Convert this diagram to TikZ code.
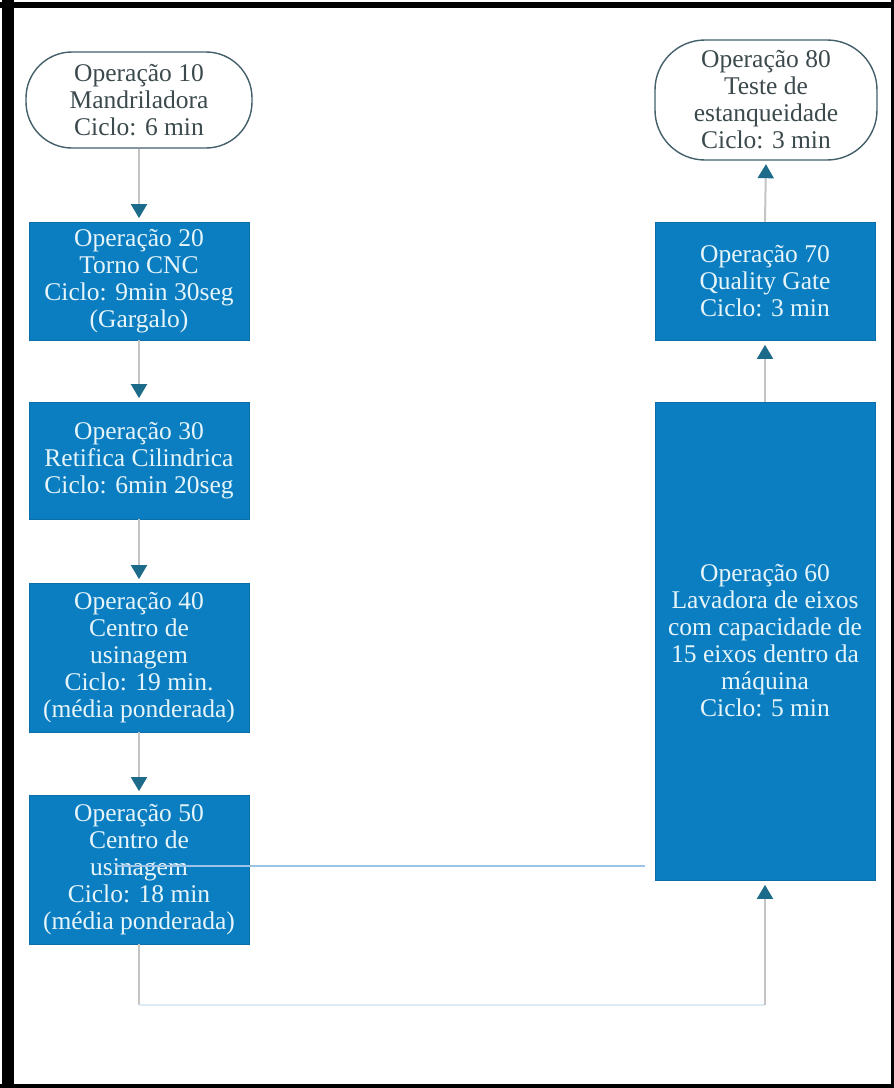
\documentclass[tikz,border=0pt]{standalone}
\usepackage{fontspec}
\setmainfont{Liberation Serif}
\usetikzlibrary{arrows.meta}
\definecolor{boxblue}{HTML}{0B7DC1}
\definecolor{boxedge}{HTML}{0A6EA8}
\definecolor{boxtext}{HTML}{E6F5FA}
\definecolor{ovaledge}{HTML}{44606A}
\definecolor{ovaltext}{HTML}{3C4A4E}
\definecolor{linegrey}{HTML}{C4C4C4}
\definecolor{tipteal}{HTML}{1D6B8A}
\definecolor{faintline}{HTML}{DCEAF4}
\definecolor{midline}{HTML}{9CC3E6}
\begin{document}
\begin{tikzpicture}[x=1pt,y=-1pt,
  every node/.style={font=\fontsize{25.5pt}{27pt}\selectfont, align=center, inner sep=0pt},
  opbox/.style={fill=boxblue, draw=boxedge, line width=0.8pt, text=boxtext, minimum width=220pt},
  opoval/.style={fill=white, draw=ovaledge, line width=1.4pt, text=ovaltext},
  conn/.style={draw=linegrey, line width=2pt},
  flow/.style={conn, -{Triangle[length=14pt,width=16pt,color=tipteal]}, shorten >=3.5pt},
  faint/.style={draw=faintline, line width=2pt},
  mid/.style={draw=midline, line width=1.3pt}]
\useasboundingbox (0,0) rectangle (894,1088);
\fill[white] (0,0) rectangle (894,1088);
% frame
\fill[black] (0,2) rectangle (894,8);
\fill[black] (2,0) rectangle (14,1088);
\fill[black] (0,1084) rectangle (894,1088);
\fill[black] (891,0) rectangle (894,1088);
% nodes
\node[opoval, minimum width=226pt, minimum height=96pt, rounded corners=46pt] (o10) at (139,100) {Operação 10\\Mandriladora\\Ciclo: 6 min};
\node[opbox, minimum height=118pt] (o20) at (139,281) {Operação 20\\Torno CNC\\Ciclo: 9min 30seg\\(Gargalo)};
\node[opbox, minimum height=117pt] (o30) at (139,460.5) {Operação 30\\Retifica Cilindrica\\Ciclo: 6min 20seg};
\node[opbox, minimum height=149pt] (o40) at (139,657.5) {Operação 40\\Centro de\\usinagem\\Ciclo: 19 min.\\(média ponderada)};
\node[opbox, minimum height=149pt] (o50) at (139,869.5) {Operação 50\\Centro de\\usinagem\\Ciclo: 18 min\\(média ponderada)};
\node[opbox, minimum height=478pt] (o60) at (765,641) {Operação 60\\Lavadora de eixos\\com capacidade de\\15 eixos dentro da\\máquina\\Ciclo: 5 min};
\node[opbox, minimum height=118pt] (o70) at (765,281) {Operação 70\\Quality Gate\\Ciclo: 3 min};
\node[opoval, minimum width=222pt, minimum height=120pt, rounded corners=50pt] (o80) at (766,100) {Operação 80\\Teste de\\estanqueidade\\Ciclo: 3 min};
% connectors
\draw[flow] (o10.south) -- (o20.north);
\draw[flow] (o20.south) -- (o30.north);
\draw[flow] (o30.south) -- (o40.north);
\draw[flow] (o40.south) -- (o50.north);
\coordinate (b1) at (139,1005);
\coordinate (b2) at (765,1005);
\draw[conn] (o50.south) -- (b1);
\draw[faint] (b1) -- (b2);
\draw[flow, shorten >=4.5pt] (b2) -- (o60.south);
\draw[flow, shorten >=4.5pt] (o60.north) -- (o70.south);
\draw[flow] (o70.north) -- (o80.south);
\coordinate (h1) at (115,866);
\coordinate (h2) at (645,866);
\draw[mid] (h1) -- (h2);
\end{tikzpicture}
\end{document}
